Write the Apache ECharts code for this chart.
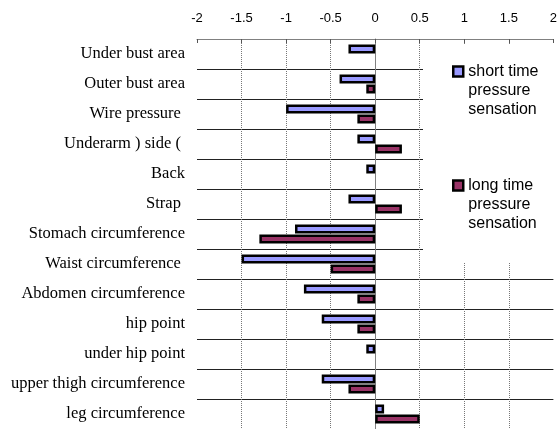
<!DOCTYPE html>
<html>
<head>
<meta charset="utf-8">
<script src="https://cdn.jsdelivr.net/npm/echarts@6/dist/echarts.min.js"></script>
<style>html,body{margin:0;padding:0;background:#fff}#c{width:560px;height:429px}</style>
</head>
<body>
<div id="c"></div>
<script>
const categories = [
  'Under bust area',
  'Outer bust area',
  'Wire pressure ',
  'Underarm ) side ( ',
  'Back',
  'Strap ',
  'Stomach circumference',
  'Waist circumference ',
  'Abdomen circumference',
  'hip point',
  'under hip point',
  'upper thigh circumference',
  'leg circumference'
];
const shortTime = [-0.3, -0.4, -1.0, -0.2, -0.1, -0.3, -0.9, -1.5, -0.8, -0.6, -0.1, -0.6, 0.1];
const longTime  = [0, -0.1, -0.2, 0.3, 0, 0.3, -1.3, -0.5, -0.2, -0.2, 0, -0.3, 0.5];
const xTicks = [-2, -1.5, -1, -0.5, 0, 0.5, 1, 1.5, 2];
const seriesNames = ['short time pressure sensation', 'long time pressure sensation'];
const legendLabels = { 'short time pressure sensation': 'short time\npressure\nsensation',
                       'long time pressure sensation': 'long time\npressure\nsensation' };

// zero-length bars are drawn without an outline
const toBarData = arr => arr.map(v => v === 0 ? { value: v, itemStyle: { borderWidth: 0 } } : v);

const chart = echarts.init(document.getElementById('c'), null, { renderer: 'canvas' });
chart.setOption({
  animation: false,
  backgroundColor: '#fff',
  grid: { left: 197, right: 3, top: 39, bottom: 0, containLabel: false },
  xAxis: {
    type: 'value', position: 'top',
    min: xTicks[0], max: xTicks[xTicks.length - 1], interval: 0.5,
    axisLine: { show: true, lineStyle: { color: '#808080', width: 1 } },
    axisTick: { show: true, inside: true, length: 4, lineStyle: { color: '#555' } },
    axisLabel: { margin: 14, fontFamily: 'Liberation Sans', fontSize: 13, color: '#000',
      formatter: v => String(v) },
    splitLine: { show: true, showMinLine: false, showMaxLine: false,
      lineStyle: { type: 'dotted', color: '#777', width: 1 } }
  },
  yAxis: {
    type: 'category', inverse: true, data: categories,
    axisLine: { show: true, onZero: true, lineStyle: { color: '#808080', width: 1 } },
    axisTick: { show: false },
    axisLabel: { margin: 12, fontFamily: 'Liberation Serif', fontSize: 16.5, color: '#000', interval: 0 },
    splitLine: { show: true, interval: 0, lineStyle: { color: '#222', width: 1 } }
  },
  legend: {
    orient: 'vertical', left: 452, top: 24, padding: 0, itemGap: 19, z: 20,
    itemWidth: 10, itemHeight: 10,
    icon: 'rect',
    itemStyle: { borderColor: '#000', borderWidth: 2.5 },
    textStyle: { fontFamily: 'Liberation Sans', fontSize: 16, lineHeight: 19, color: '#000' },
    formatter: name => '\n\n' + legendLabels[name],
    data: seriesNames
  },
  graphic: [{
    type: 'rect', z: 10, silent: true,
    shape: { x: 423, y: 44, width: 136, height: 218 },
    style: { fill: '#fff' }
  }],
  series: [
    { name: seriesNames[0], type: 'bar', data: toBarData(shortTime), barWidth: 9, barGap: '12%',
      itemStyle: { color: '#9999FF', borderColor: '#000', borderWidth: 2.5 } },
    { name: seriesNames[1], type: 'bar', data: toBarData(longTime), barWidth: 9,
      itemStyle: { color: '#993366', borderColor: '#000', borderWidth: 2.5 } }
  ]
});
</script>
</body>
</html>
